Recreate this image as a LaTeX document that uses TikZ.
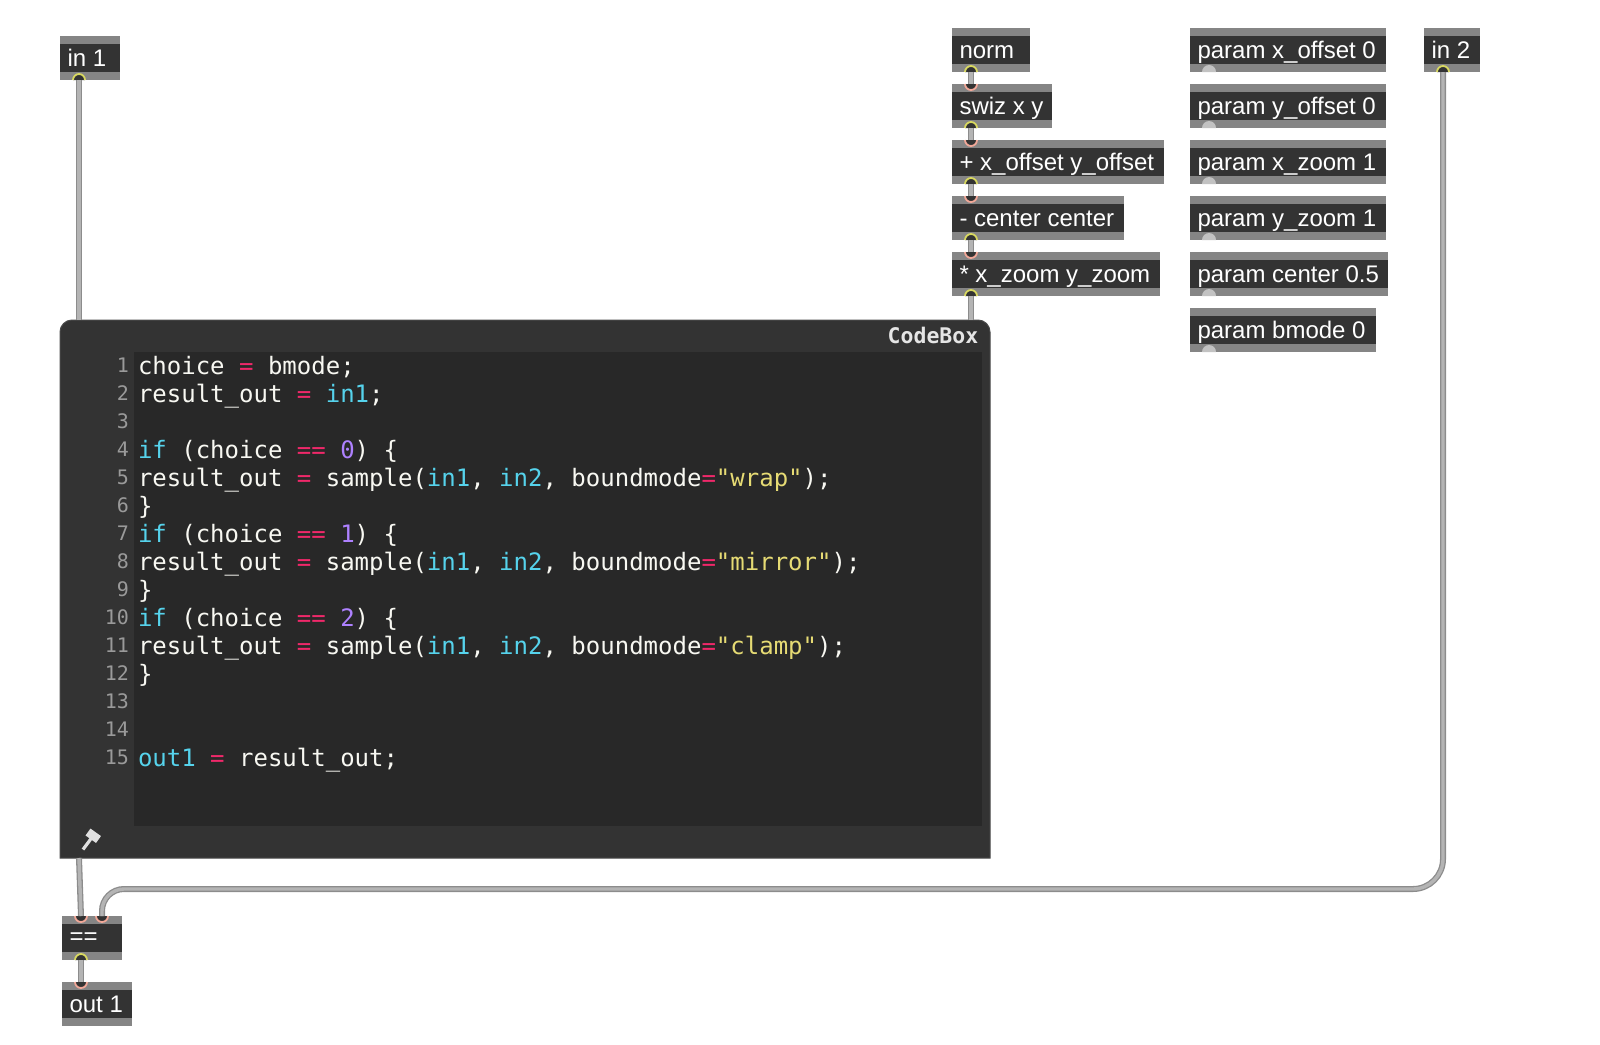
\documentclass[tikz,border=0pt]{standalone}
\usepackage{fontspec}
\setmainfont{Liberation Sans}
\newfontfamily\codefont{DejaVu Sans Mono}
\definecolor{objdark}{HTML}{333333}
\definecolor{objbar}{HTML}{858585}
\definecolor{edgrey}{HTML}{282828}
\definecolor{cbedge}{HTML}{4A4A4A}
\definecolor{codewhite}{HTML}{F8F8F2}
\definecolor{codecyan}{HTML}{56D3EC}
\definecolor{codepink}{HTML}{F0286A}
\definecolor{codepurple}{HTML}{AE81FF}
\definecolor{codeyellow}{HTML}{E6DB74}
\definecolor{gutnum}{HTML}{9A9A9A}
\definecolor{outring}{HTML}{D8D860}
\definecolor{inring}{HTML}{F2A898}
\definecolor{parmdot}{HTML}{C2C2C2}
\definecolor{cablemid}{HTML}{B4B4B4}
\definecolor{cableedge}{HTML}{8C8C8C}
\newcommand\cyn[1]{\textcolor{codecyan}{#1}}
\newcommand\pnk[1]{\textcolor{codepink}{#1}}
\newcommand\prp[1]{\textcolor{codepurple}{#1}}
\newcommand\yel[1]{\textcolor{codeyellow}{#1}}
\tikzset{
  maxobj/.style={anchor=north west,inner sep=0pt,outer sep=0pt,minimum height=44pt,fill=objbar,
    text=white,font=\fontsize{24}{28}\selectfont,text height=19pt,text depth=3pt,
    path picture={\fill[objdark] ([yshift=-8pt]path picture bounding box.north west) rectangle ([yshift=8pt]path picture bounding box.south east);}},
  portnode/.style={inner sep=0pt,outer sep=0pt,minimum size=0pt},
  cable/.style={line width=1.3pt,draw=cableedge,double=cablemid,double distance=3.4pt},
  codeline/.style={anchor=base west,inner sep=0pt,outer sep=0pt,text=codewhite,font=\codefont\fontsize{24}{28}\selectfont},
  gutterno/.style={anchor=base east,inner sep=0pt,outer sep=0pt,text=gutnum,font=\codefont\fontsize{20}{24}\selectfont},
}
% name, left, top, right, text
\newcommand\maxbox[5]{%
  \pgfmathsetmacro\boxw{#4-#2}%
  \node[maxobj,minimum width=\boxw pt] (#1) at (#2,-#3) {\hbox to \boxw pt{\hskip 7.5pt #5\hss}};}
% name, x, y
\newcommand\outport[3]{%
  \node[portnode] (#1) at (#2,-#3) {};
  \fill[objdark] (#2-6,-#3) arc[start angle=180,end angle=0,radius=6pt] -- cycle;
  \draw[outring,line width=1.8pt] (#2-6,-#3) arc[start angle=180,end angle=0,radius=6pt];}
\newcommand\inport[3]{%
  \node[portnode] (#1) at (#2,-#3) {};
  \fill[objdark] (#2-6,-#3) arc[start angle=180,end angle=360,radius=6pt] -- cycle;
  \draw[inring,line width=1.8pt] (#2-6,-#3) arc[start angle=180,end angle=360,radius=6pt];}
\newcommand\parmport[2]{%
  \fill[parmdot] (#1-7,-#2) arc[start angle=180,end angle=0,radius=7pt] -- cycle;}
\begin{document}
\begin{tikzpicture}[x=1pt,y=1pt]
\useasboundingbox (0,0) rectangle (1600,-1044);

% Code box
\node[inner sep=0pt,outer sep=0pt,minimum width=930pt,minimum height=538pt,anchor=north west] (codebox) at (60,-320) {};
\filldraw[fill=objdark,draw=cbedge,line width=1pt] (60,-858) -- (60,-332) arc[start angle=180,end angle=90,radius=12pt] -- (978,-320) arc[start angle=90,end angle=0,radius=12pt] -- (990,-858) -- cycle;
\node[inner sep=0pt,outer sep=0pt,minimum width=848pt,minimum height=474pt,anchor=north west,fill=edgrey] (editor) at (134,-352) {};
\node[anchor=base east,inner sep=0pt,text=white!90!black,font=\codefont\bfseries\fontsize{21.5}{24}\selectfont] (cbtitle) at (978.5,-343) {CodeBox};

% Hammer
\draw[white!88!black,line width=3.2pt] (83,-849.5) -- (93,-836);
\draw[white!88!black,line width=8.5pt,line join=round] (88,-832) -- (98.5,-839.5);

% Line numbers
\foreach \n in {1,...,15}{
  \pgfmathsetmacro\ly{-372-28*(\n-1)}
  \node[gutterno] (ln\n) at (129,\ly) {\n};
}
% Code
\node[codeline] (c1) at (138,-374) {choice \pnk{=} bmode;};
\node[codeline] (c2) at (138,-402) {result\_out \pnk{=} \cyn{in1};};
\node[codeline] (c4) at (138,-458) {\cyn{if} (choice \pnk{==} \prp{0}) \{};
\node[codeline] (c5) at (138,-486) {result\_out \pnk{=} sample(\cyn{in1}, \cyn{in2}, boundmode\pnk{=}\yel{"wrap"});};
\node[codeline] (c6) at (138,-514) {\}};
\node[codeline] (c7) at (138,-542) {\cyn{if} (choice \pnk{==} \prp{1}) \{};
\node[codeline] (c8) at (138,-570) {result\_out \pnk{=} sample(\cyn{in1}, \cyn{in2}, boundmode\pnk{=}\yel{"mirror"});};
\node[codeline] (c9) at (138,-598) {\}};
\node[codeline] (c10) at (138,-626) {\cyn{if} (choice \pnk{==} \prp{2}) \{};
\node[codeline] (c11) at (138,-654) {result\_out \pnk{=} sample(\cyn{in1}, \cyn{in2}, boundmode\pnk{=}\yel{"clamp"});};
\node[codeline] (c12) at (138,-682) {\}};
\node[codeline] (c15) at (138,-766) {\cyn{out1} \pnk{=} result\_out;};

% Objects
\maxbox{inone}{60}{36}{120}{in 1}
\maxbox{intwo}{1424}{28}{1480}{in 2}
\maxbox{norm}{952}{28}{1030}{norm}
\maxbox{swiz}{952}{84}{1052}{swiz x y}
\maxbox{plus}{952}{140}{1164}{+ x\_offset y\_offset}
\maxbox{minus}{952}{196}{1124}{- center center}
\maxbox{times}{952}{252}{1160}{* x\_zoom y\_zoom}
\maxbox{pxo}{1190}{28}{1386}{param x\_offset 0}
\maxbox{pyo}{1190}{84}{1386}{param y\_offset 0}
\maxbox{pxz}{1190}{140}{1386}{param x\_zoom 1}
\maxbox{pyz}{1190}{196}{1386}{param y\_zoom 1}
\maxbox{pct}{1190}{252}{1388}{param center 0.5}
\maxbox{pbm}{1190}{308}{1376}{param bmode 0}
\maxbox{eqeq}{62}{916}{122}{\raisebox{1.5pt}{==}}
\maxbox{outone}{62}{982}{132}{out 1}

% Param outlets
\parmport{1209}{72}
\parmport{1209}{128}
\parmport{1209}{184}
\parmport{1209}{240}
\parmport{1209}{296}
\parmport{1209}{352}

% Ports
\outport{inoneO}{79}{80}
\outport{intwoO}{1443}{72}
\outport{normO}{971}{72}
\inport{swizI}{971}{84}
\outport{swizO}{971}{128}
\inport{plusI}{971}{140}
\outport{plusO}{971}{184}
\inport{minusI}{971}{196}
\outport{minusO}{971}{240}
\inport{timesI}{971}{252}
\outport{timesO}{971}{296}
\inport{eqA}{81}{916}
\inport{eqB}{102}{916}
\outport{eqO}{81}{960}
\inport{outI}{81}{982}
\node[portnode] (cbA) at (79,-320) {};
\node[portnode] (cbB) at (971,-320) {};
\node[portnode] (cbO) at (79,-858) {};

% Cables
\draw[cable] (inoneO.center) -- (cbA.center);
\draw[cable] (normO.center) -- (swizI.center);
\draw[cable] (swizO.center) -- (plusI.center);
\draw[cable] (plusO.center) -- (minusI.center);
\draw[cable] (minusO.center) -- (timesI.center);
\draw[cable] (timesO.center) -- (cbB.center);
\draw[cable] (cbO.center) -- (eqA.center);
\draw[cable] (eqO.center) -- (outI.center);
\draw[cable,rounded corners=30pt] (intwoO.center) -- (1443,-889) [rounded corners=22pt] -- (102,-889) -- (eqB.center);
\end{tikzpicture}
\end{document}
